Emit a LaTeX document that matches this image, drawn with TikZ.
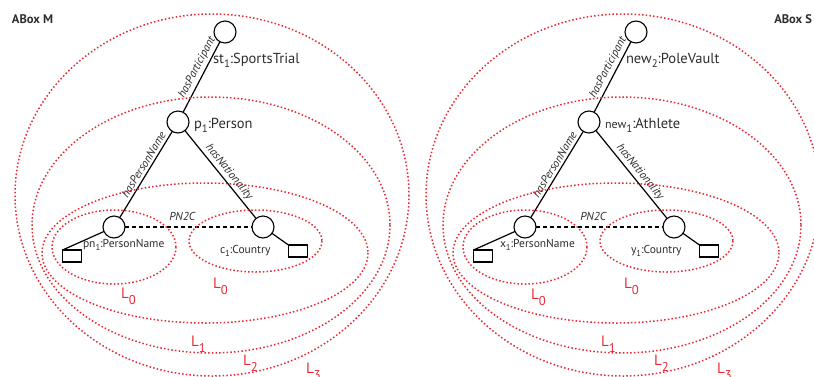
\documentclass[tikz,border=0pt]{standalone}
\usepackage{fontspec}
\setmainfont{PT Sans}
\usetikzlibrary{positioning, shapes.geometric}
\definecolor{lvlred}{RGB}{234,40,50}
\definecolor{txtgray}{RGB}{45,45,45}
\newcommand{\idx}[1]{\raisebox{-0.3em}{\scalebox{0.75}{#1}}}
\newcommand{\lidx}[1]{\raisebox{-0.45em}{\scalebox{0.85}{#1}}}

\begin{document}
\begin{tikzpicture}[
        x=1pt, y=-1pt,
        every node/.style={inner sep=0pt, outer sep=0pt},
        indiv/.style={draw, circle, line width=1.1pt, minimum size=22pt},
        datum/.style={draw, rectangle, line width=1.1pt, minimum width=19pt, minimum height=12pt},
        role/.style={line width=1.2pt},
        rolename/.style={font=\fontsize{11.5}{13}\selectfont\itshape, text=txtgray, sloped, above=3pt},
        same/.style={line width=1.5pt, dash pattern=on 4pt off 3pt},
        lvl/.style={draw=lvlred, line width=1.5pt, dash pattern=on 1.5pt off 2.2pt},
        lvlname/.style={anchor=base west, text=lvlred, font=\fontsize{15}{17}\selectfont},
        concept/.style={anchor=base west, text=txtgray, font=\fontsize{14.5}{16}\selectfont},
        small concept/.style={concept, font=\fontsize{11.5}{14}\selectfont},
        abox/.style={font=\fontsize{12.5}{15}\selectfont\bfseries, text=txtgray}
        ]
        \useasboundingbox (0,0) rectangle (814,376);

        \node[abox, anchor=west] (aboxm) at (12,19) {ABox M};
        \node[abox, anchor=east] (aboxs) at (812,19) {ABox S};

        \node[indiv] (st1) at (225,32) {};
        \node[indiv] (p1) at (178,122) {};
        \node[indiv] (pn1) at (114,227) {};
        \node[indiv] (c1) at (263,227) {};
        \node[datum] (pn1box) at (72,256) {};
        \node[datum] (c1box) at (298,251) {};

        \node[concept] (st1lab) at (213,63) {st\idx{1}:SportsTrial};
        \node[concept] (p1lab) at (194,128) {p\idx{1}:Person};
        \node[small concept] (pn1lab) at (83,247) {pn\idx{1}:PersonName};
        \node[small concept] (c1lab) at (220,253) {c\idx{1}:Country};

        \draw[role] (st1) -- node[rolename, pos=0.42] {hasParticipant} (p1);
        \draw[role] (p1) -- node[rolename, pos=0.43] {hasPersonName} (pn1);
        \draw[role] (p1) -- node[rolename, pos=0.53] {hasNationality} (c1);
        \draw[role] (pn1) -- (pn1box.north west);
        \draw[role] (c1) -- (c1box.north west);
        \draw[same] (pn1) -- node[rolename, sloped=false, pos=0.45, above=6pt] {PN2C} (c1);

        \draw[lvl] (114,247) ellipse [x radius=62, y radius=37];
        \draw[lvl] (255.5,241) ellipse [x radius=66.5, y radius=31];
        \draw[lvl] (205,253) ellipse [x radius=163, y radius=70];
        \draw[lvl] (211,225) ellipse [x radius=179, y radius=128];
        \draw[lvl] (212,195) ellipse [x radius=197, y radius=181];

        \node[lvlname] (l0a) at (121,298) {L\lidx{0}};
        \node[lvlname] (l0b) at (213,288) {L\lidx{0}};
        \node[lvlname] (l1) at (191,346) {L\lidx{1}};
        \node[lvlname] (l2) at (243,365) {L\lidx{2}};
        \node[lvlname] (l3) at (306,373) {L\lidx{3}};

        \begin{scope}[xshift=411pt]
        \node[indiv] (new2) at (225,32) {};
        \node[indiv] (new1) at (178,122) {};
        \node[indiv] (x1) at (114,227) {};
        \node[indiv] (y1) at (263,227) {};
        \node[datum] (x1box) at (72,256) {};
        \node[datum] (y1box) at (298,251) {};

        \node[concept] (new2lab) at (215,63) {new\idx{2}:PoleVault};
        \node[concept] (new1lab) at (194,128) {{\fontsize{12}{14}\selectfont new}\idx{1}:Athlete};
        \node[small concept] (x1lab) at (89,247) {x\idx{1}:PersonName};
        \node[small concept] (y1lab) at (220,253) {y\idx{1}:Country};

        \draw[role] (new2) -- node[rolename, pos=0.42] {hasParticipant} (new1);
        \draw[role] (new1) -- node[rolename, pos=0.43] {hasPersonName} (x1);
        \draw[role] (new1) -- node[rolename, pos=0.53] {hasNationality} (y1);
        \draw[role] (x1) -- (x1box.north west);
        \draw[role] (y1) -- (y1box.north west);
        \draw[same] (x1) -- node[rolename, sloped=false, pos=0.45, above=6pt] {PN2C} (y1);

        \draw[lvl] (114,247) ellipse [x radius=62, y radius=37];
        \draw[lvl] (255.5,241) ellipse [x radius=66.5, y radius=31];
        \draw[lvl] (205,253) ellipse [x radius=163, y radius=70];
        \draw[lvl] (211,225) ellipse [x radius=179, y radius=128];
        \draw[lvl] (212,195) ellipse [x radius=197, y radius=181];

        \node[lvlname] (m0a) at (120,299) {L\lidx{0}};
        \node[lvlname] (m0b) at (213,288) {L\lidx{0}};
        \node[lvlname] (m1) at (190,346) {L\lidx{1}};
        \node[lvlname] (m2) at (243,365) {L\lidx{2}};
        \node[lvlname] (m3) at (306,373) {L\lidx{3}};
        \end{scope}
\end{tikzpicture}
\end{document}
